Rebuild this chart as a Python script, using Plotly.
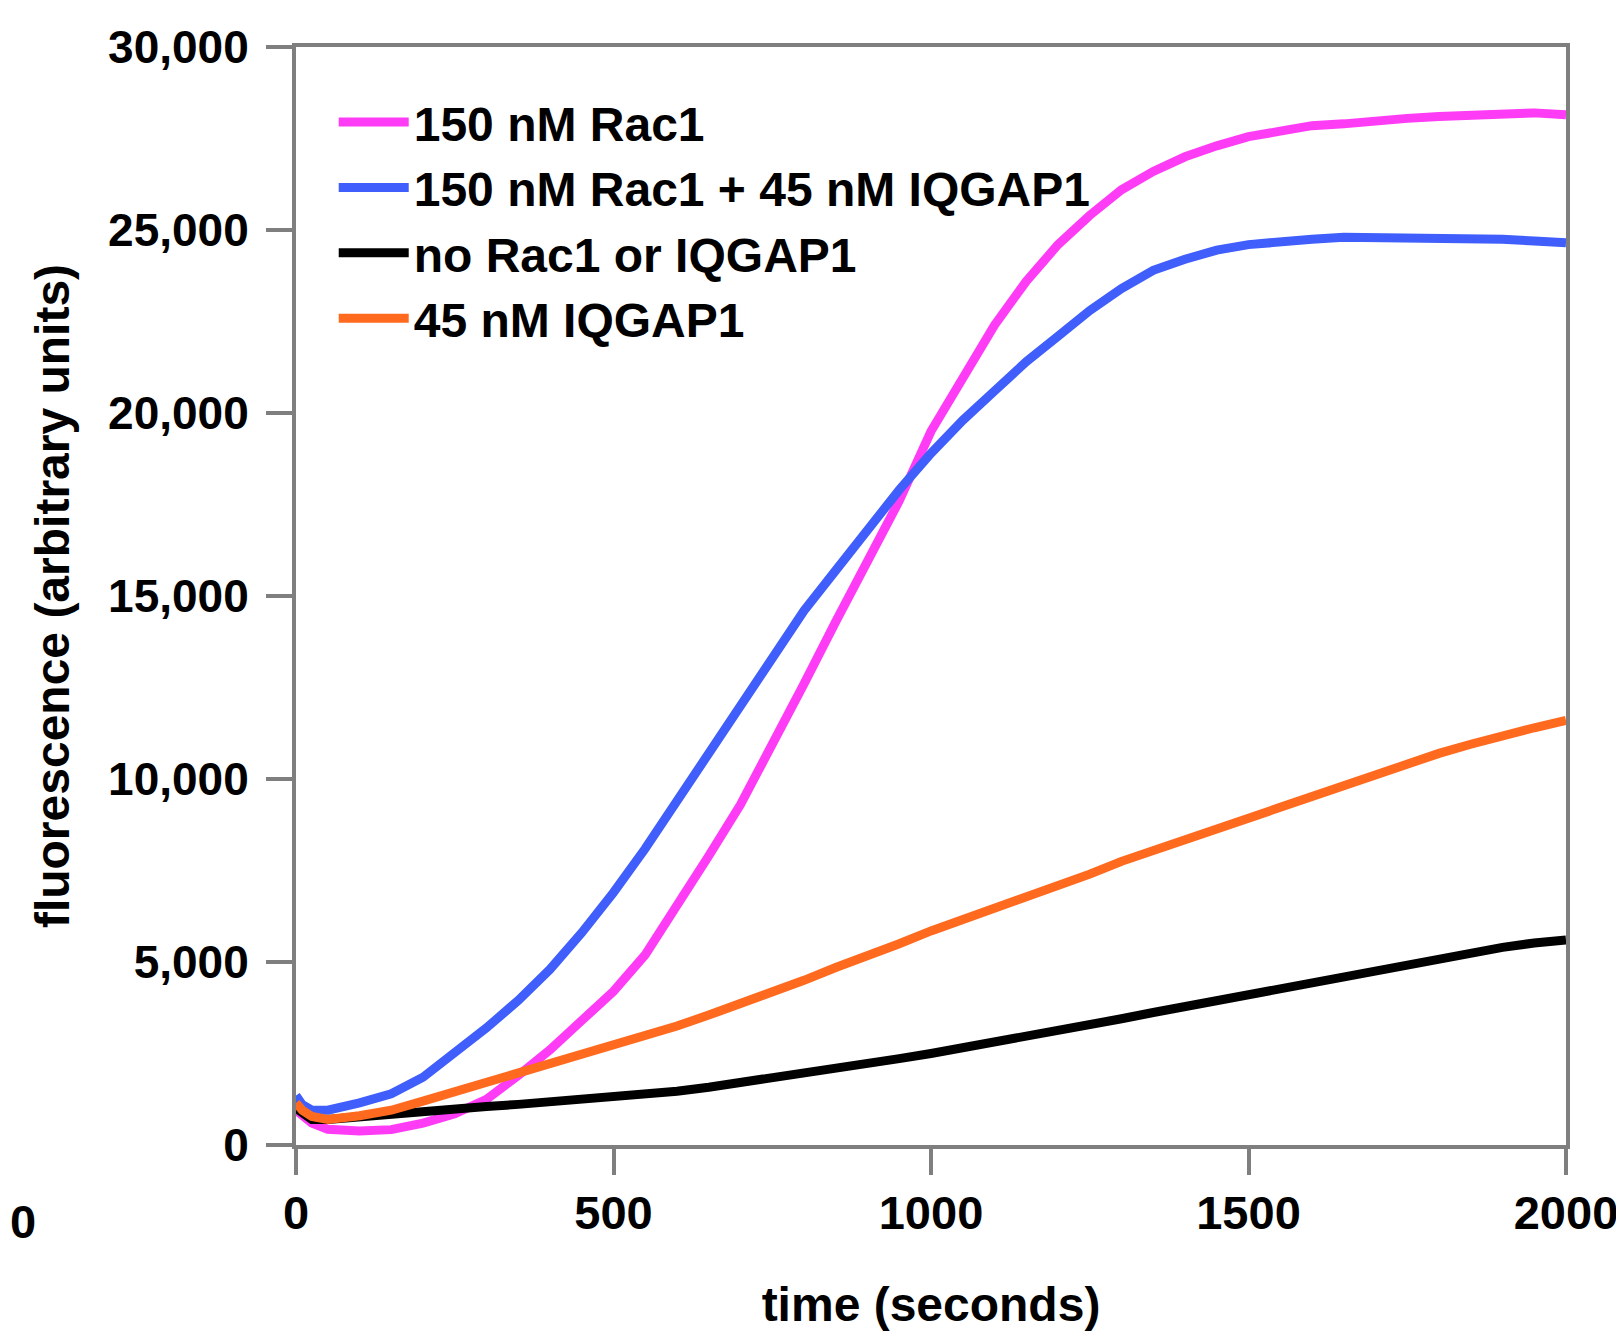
import plotly.graph_objects as go

# time points (seconds)
time_s = [0, 10, 25, 50, 100, 150, 200, 250, 300, 350, 400, 450, 500, 550, 600, 650, 700,
          750, 800, 850, 900, 950, 1000, 1050, 1100, 1150, 1200, 1250, 1300, 1350, 1400,
          1450, 1500, 1550, 1600, 1650, 1700, 1750, 1800, 1850, 1900, 1950, 2000]

rac1 = [950, 800, 600, 430, 380, 420, 600, 850, 1250, 1900, 2600, 3400, 4200, 5200, 6500,
        7900, 9300, 10900, 12600, 14300, 15900, 17600, 19500, 21000, 22400, 23600, 24600,
        25400, 26100, 26600, 27000, 27300, 27550, 27700, 27850, 27900, 28000, 28050, 28100,
        28150, 28200, 28200, 28150]

rac1_iqgap1 = [1350, 1100, 950, 950, 1150, 1400, 1850, 2500, 3200, 3950, 4800, 5800, 6900,
               8100, 9400, 10800, 12100, 13400, 14600, 15700, 16800, 17900, 18900, 19800,
               20600, 21400, 22100, 22800, 23400, 23900, 24200, 24450, 24600, 24700, 24750,
               24800, 24800, 24800, 24800, 24800, 24750, 24700, 24650]

no_rac1 = [1000, 850, 700, 700, 780, 850, 920, 1000, 1050, 1110, 1170, 1240, 1300, 1380,
           1470, 1580, 1700, 1830, 1960, 2080, 2220, 2360, 2500, 2650, 2800, 2950, 3100,
           3280, 3450, 3620, 3780, 3950, 4120, 4280, 4450, 4620, 4780, 4950, 5100, 5250,
           5400, 5520, 5600]

iqgap1 = [1150, 950, 780, 700, 800, 950, 1200, 1450, 1700, 1950, 2200, 2450, 2750, 3000,
          3250, 3550, 3850, 4200, 4500, 4850, 5150, 5500, 5850, 6150, 6450, 6800, 7100,
          7400, 7750, 8050, 8350, 8650, 8950, 9250, 9550, 9850, 10100, 10400, 10700, 10950,
          11200, 11400, 11600]

series_names = ["150 nM Rac1", "150 nM Rac1 + 45 nM IQGAP1", "no Rac1 or IQGAP1", "45 nM IQGAP1"]
series_values = [rac1, rac1_iqgap1, no_rac1, iqgap1]
series_colors = ["#FF3CF5", "#3F5EFB", "#000000", "#FF6A1F"]

x_ticks = [0, 500, 1000, 1500, 2000]
y_ticks = [0, 5000, 10000, 15000, 20000, 25000, 30000]

FONT = "Liberation Sans, Arial, sans-serif"
GRAY = "#7F7F7F"

fig = go.Figure()
for name, vals, col in zip(series_names, series_values, series_colors):
    fig.add_trace(go.Scatter(x=time_s, y=vals, mode="lines", name=name,
                             line=dict(color=col, width=9)))

axis_common = dict(
    showline=True, linewidth=4, linecolor=GRAY, mirror=True,
    ticks="outside", ticklen=26, tickwidth=4, tickcolor=GRAY,
    showgrid=False, zeroline=False,
)

fig.update_layout(
    width=1624, height=1337,
    margin=dict(l=288, r=66, t=39, b=200),
    paper_bgcolor="white", plot_bgcolor="white",
    showlegend=True,
    legend=dict(x=0.0297, y=0.966, xanchor="left", yanchor="top",
                bgcolor="rgba(0,0,0,0)", itemwidth=70,
                font=dict(family=FONT, size=48, color="black", weight="bold")),
    xaxis=dict(range=[0, 2000], tickvals=x_ticks, tickformat="d",
               ticklabelstandoff=-2,
               tickfont=dict(family=FONT, size=47, color="black", weight="bold"),
               title=dict(text="time (seconds)", standoff=50,
                          font=dict(family=FONT, size=48, color="black", weight="bold")),
               **axis_common),
    yaxis=dict(range=[0, 30000], tickvals=y_ticks, tickformat=",d",
               ticklabelstandoff=8,
               tickfont=dict(family=FONT, size=46, color="black", weight="bold"),
               title=dict(text="fluorescence (arbitrary units)", standoff=24,
                          font=dict(family=FONT, size=48, color="black", weight="bold")),
               **axis_common),
    annotations=[dict(text="0", xref="paper", yref="paper", x=-288 / 1270, y=-0.07,
                      showarrow=False, xanchor="left", yanchor="middle",
                      font=dict(family=FONT, size=47, color="black", weight="bold"))],
)

fig.write_html("out.html")
